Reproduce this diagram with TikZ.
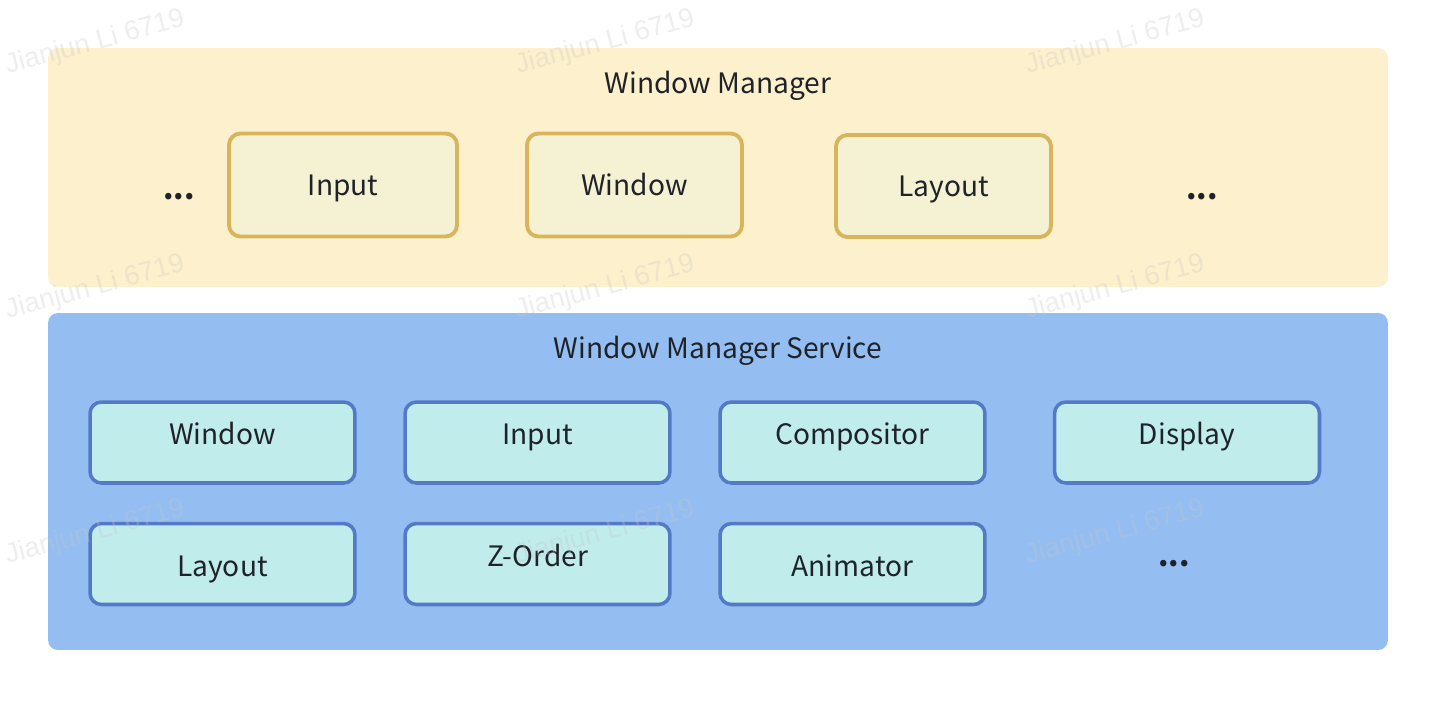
\documentclass[tikz,border=0pt]{standalone}
\usepackage{fontspec}
\setmainfont{Noto Sans CJK SC}
\newfontfamily\markfont{Liberation Sans}
\usetikzlibrary{positioning}
\definecolor{wmback}{HTML}{FDF0CC}
\definecolor{wmfill}{HTML}{F4F2D3}
\definecolor{wmline}{HTML}{D8B55B}
\definecolor{wmsback}{HTML}{94BEF1}
\definecolor{wmsfill}{HTML}{C0EDEC}
\definecolor{wmsline}{HTML}{5479C6}
\definecolor{ink}{HTML}{1F2329}

\begin{document}
\begin{tikzpicture}[
  x=0.02cm, y=-0.02cm,
  every node/.style={font=\fontsize{16}{19}\selectfont, text=ink},
  panel/.style={rounded corners=5.5pt, minimum width=26.8cm, inner sep=0pt},
  title/.style={anchor=base},
  comp/.style={draw=wmline, fill=wmfill, line width=2.2pt, rounded corners=6.5pt,
    minimum width=4.3cm, minimum height=2.06cm, text height=14pt, text depth=1.6pt},
  svc/.style={draw=wmsline, fill=wmsfill, line width=2pt, rounded corners=6.5pt,
    minimum width=5.3cm, minimum height=1.62cm, text height=15.5pt, text depth=1.6pt},
  raised/.style={text height=7.5pt, text depth=4.8pt},
  dots/.style={anchor=base, font=\fontsize{17}{19}\selectfont\bfseries},
  wmark/.style={font=\markfont\fontsize{15.6}{18}\selectfont, text=gray!45,
    opacity=0.3, rotate=15}
]
\useasboundingbox (0,0) rectangle (1436,700);

% the two layers
\node[panel, fill=wmback, minimum height=4.78cm] (wm) at (718,167.5) {};
\node[panel, fill=wmsback, minimum height=6.74cm] (wms) at (718,481.5) {};
\node[title] (wmtitle) at (718,93) {Window Manager};
\node[title] (wmstitle) at (718,358) {Window Manager Service};

% client side
\node[dots] (moreleft) at (179,199) {...};
\node[comp, minimum width=4.56cm] (input) at (343,185) {Input};
\node[comp] (window) at (634.5,185) {Window};
\node[comp, minimum height=2.04cm] (layout) at (943.5,186) {Layout};
\node[dots] (moreright) at (1202,199) {...};

% service side
\node[svc, raised] (svcwindow) at (222.5,442.5) {Window};
\node[svc, raised] (svcinput) at (537.5,442.5) {Input};
\node[svc, raised] (compositor) at (852.5,442.5) {Compositor};
\node[svc, raised] (display) at (1187,442.5) {Display};
\node[svc] (svclayout) at (222.5,564) {Layout};
\node[svc, raised] (zorder) at (537.5,564) {Z-Order};
\node[svc] (animator) at (852.5,564) {Animator};
\node[dots] (moresvc) at (1174,566) {...};

% watermark
\foreach \px in {95,605,1115}
  \foreach \py in {43,288,533}
    \node[wmark] (wmark-\px-\py) at (\px,\py) {Jianjun Li 6719};
\end{tikzpicture}
\end{document}
